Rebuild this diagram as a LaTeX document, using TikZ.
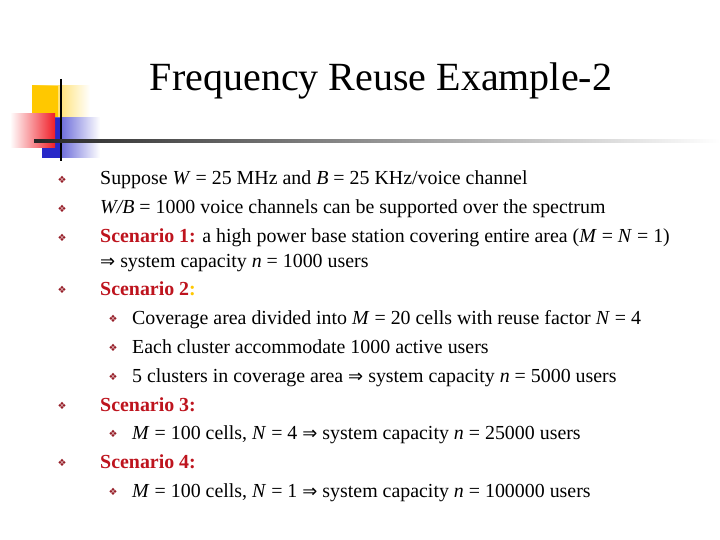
\documentclass[tikz,border=0pt]{standalone}
\usepackage{fontspec}
\setmainfont{Liberation Serif}
\newfontfamily\dejavu{DejaVu Sans}
\newcommand{\Imp}{{\dejavu\fontsize{18}{18}\selectfont ⇒}}
\definecolor{bul}{RGB}{150,30,40}
\definecolor{scn}{RGB}{190,20,30}
\definecolor{ylw}{RGB}{255,200,0}
\definecolor{rd}{RGB}{240,30,40}
\definecolor{bl}{RGB}{40,40,200}
\begin{document}
\begin{tikzpicture}[x=1pt,y=-1pt,
  txt/.style={anchor=base west,inner sep=0,font=\fontsize{19.9}{22}\selectfont},
  bu/.style={anchor=base,inner sep=0,text=bul,font=\dejavu\fontsize{10}{10}\selectfont}]
\useasboundingbox (0,0) rectangle (720,540);
\fill[white] (0,0) rectangle (720,540);
% logo
\shade[left color=ylw,right color=white] (32,86) rectangle (90,118);
\fill[ylw] (32,86) rectangle (58,118);
\shade[left color=bl,right color=white] (42,118) rectangle (100,158);
\fill[bl] (42,118) rectangle (60,158);
\shade[left color=white,right color=rd] (10,114) rectangle (55,148);
\draw[line width=2pt] (61,79) -- (61,161);
\shade[left color=black!85,right color=white] (34,140) rectangle (720,142.5);
\node[inner sep=0,anchor=base,font=\fontsize{40}{44}\selectfont] (title) at (381,91) {Frequency Reuse Example-2};
% bullets
\foreach \y/\x in {185/62,214/62,243/62,295/62,411/62,468/62,324/113,353/113,382/113,439/113,497/113}
  \node[bu] at (\x,\y-1.5) {❖};
\node[txt] (l1) at (100,185) {Suppose \textit{W} = 25 MHz and \textit{B} = 25 KHz/voice channel};
\node[txt] (l2) at (100,214) {\textit{W/B} = 1000 voice channels can be supported over the spectrum};
\node[txt] (l3) at (100,243) {\textcolor{scn}{\textbf{Scenario 1:}} a high power base station covering entire area (\textit{M} = \textit{N} = 1)};
\node[txt] (l4) at (100,267) {\Imp{} system capacity \textit{n} = 1000 users};
\node[txt] (l5) at (100,295) {\textcolor{scn}{\textbf{Scenario 2}}\textcolor{ylw}{\textbf{:}}};
\node[txt] (l6) at (132,324) {Coverage area divided into \textit{M} = 20 cells with reuse factor \textit{N} = 4};
\node[txt] (l7) at (132,353) {Each cluster accommodate 1000 active users};
\node[txt] (l8) at (132,382) {5 clusters in coverage area \Imp{} system capacity \textit{n} = 5000 users};
\node[txt] (l9) at (100,411) {\textcolor{scn}{\textbf{Scenario 3:}}};
\node[txt] (l10) at (132,439) {\textit{M} = 100 cells, \textit{N} = 4 \Imp{} system capacity \textit{n} = 25000 users};
\node[txt] (l11) at (100,468) {\textcolor{scn}{\textbf{Scenario 4:}}};
\node[txt] (l12) at (132,497) {\textit{M} = 100 cells, \textit{N} = 1 \Imp{} system capacity \textit{n} = 100000 users};
\end{tikzpicture}
\end{document}
